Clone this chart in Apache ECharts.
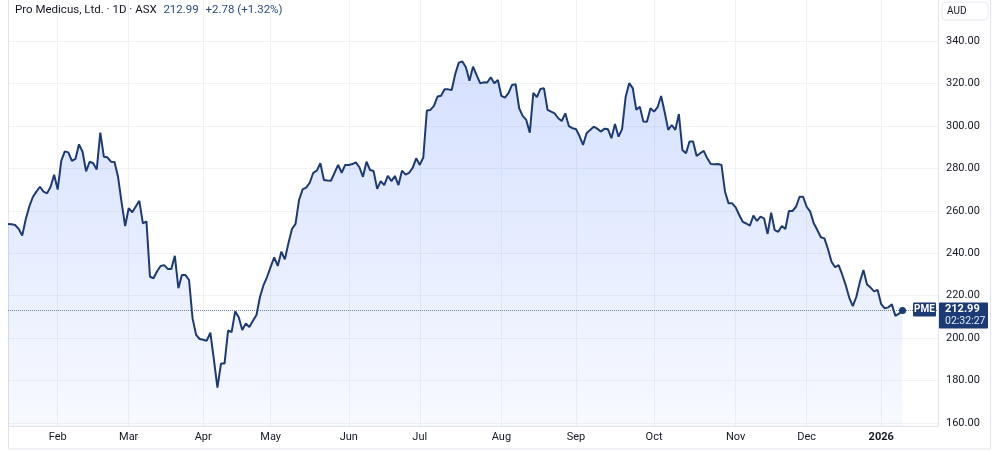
<!DOCTYPE html>
<html lang="en">
<head>
    <meta charset="utf-8">
    <title>PME</title>
    <script src="https://cdn.jsdelivr.net/npm/echarts@6/dist/echarts.min.js"></script>
    <style>
        html, body { margin: 0; padding: 0; background: #fff; }
        #main { width: 1000px; height: 452px; }
    </style>
</head>
<body>
<div id="main"></div>
<script type="text/javascript">
    // daily closes, ASX:PME, 13 Jan 2025 -> 12 Jan 2026
    var closes = [
        253.8, 253.6, 253.3, 251.5, 248.3, 256, 262, 266.5, 269, 271.3,
        269, 268.2, 271.3, 277, 270, 283.5, 288, 287.5, 283.5, 284.4,
        291.3, 287.8, 278.6, 283.1, 282.4, 279.5, 296.8, 285.5, 285.2, 283.1,
        283, 276, 264, 252.8, 261.2, 259.3, 262, 264.7, 254.1, 255,
        228.9, 228.2, 231.5, 234, 234.4, 232.6, 232.6, 238.8, 223.5, 229.7,
        229.7, 227.4, 209.3, 201.5, 199.6, 199.2, 198.8, 202.6, 190, 176.7,
        188, 188, 203.6, 202.8, 212.6, 209.8, 203.8, 206.9, 205.2, 208.2,
        210.9, 219.5, 225, 228.9, 233.6, 238, 234, 240.7, 237.1, 244.7,
        251.4, 253.8, 265.1, 270.1, 270.9, 273.2, 277.9, 278.9, 282.4, 274.5,
        274.3, 274.2, 277.9, 281.6, 277.9, 281.6, 281.6, 282, 282.8, 280.5,
        276, 283.1, 279.2, 278.7, 270.3, 274, 272.1, 276.5, 274, 276.4,
        272.1, 278.9, 277, 277.9, 280.2, 284.7, 281.6, 285.1, 307.2, 307.5,
        309.4, 313.8, 314.2, 317.2, 317.2, 316.9, 324.4, 329.8, 330.3, 327.6,
        321.3, 327.9, 324, 320.1, 320.5, 320.4, 322.9, 320.1, 321.6, 314.1,
        313.3, 315.4, 319.3, 319.6, 308.3, 304.7, 302.8, 296.8, 315.6, 313.5,
        317.4, 317.7, 307.5, 306.7, 305.9, 303.6, 302.3, 305.9, 299.9, 298.9,
        298.5, 295.2, 291, 296.5, 298.1, 299.6, 298.7, 297.3, 298.6, 298.5,
        294.2, 300.9, 294.9, 298.5, 313.6, 320.1, 317.8, 307.6, 309, 302,
        301.9, 308.3, 306.7, 308.8, 314.1, 306.4, 298.1, 300.4, 298.1, 305.6,
        288.6, 287.1, 292.6, 292.6, 285.8, 287.1, 288.2, 284.7, 282, 281.9,
        282, 281.6, 269, 263.5, 263.5, 261.6, 258, 254.8, 254, 253,
        257.7, 255.2, 257.2, 256.4, 249.1, 259.1, 250.9, 250.1, 252.8, 251.4,
        259.9, 259.9, 261.9, 266.6, 266.6, 261.9, 259.6, 254.1, 250.9, 247.5,
        247, 242, 236, 233.4, 234.4, 230, 225, 219, 215.1, 219.5,
        226.5, 232.1, 225.3, 223.8, 222, 222.7, 216, 214, 214.5, 215.9,
        210.5, 211.5, 212.99
    ];
    var priceTicks = [160, 180, 200, 220, 240, 260, 280, 300, 320, 340];
    var monthNames = ['Jan', 'Feb', 'Mar', 'Apr', 'May', 'Jun', 'Jul', 'Aug', 'Sep', 'Oct', 'Nov', 'Dec'];
    var holidays = ['2025-01-27', '2025-04-18', '2025-04-21', '2025-04-25', '2025-06-09',
        '2025-12-25', '2025-12-26', '2026-01-01'];
    var emptyDays = 10; // blank space to the right of last bar
    var ticker = 'PME';
    var lastClose = 212.99;
    var change = '+2.78 (+1.32%)';
    var clock = '02:32:27';

    // ASX trading days
    var dates = [];
    var d = new Date(Date.UTC(2025, 0, 13));
    while (dates.length < closes.length + emptyDays) {
        var s = d.toISOString().slice(0, 10);
        var wd = d.getUTCDay();
        if (wd !== 0 && wd !== 6 && holidays.indexOf(s) < 0) dates.push(s);
        d.setUTCDate(d.getUTCDate() + 1);
    }

    function monthStart(idx) {
        return idx > 0 && dates[idx].slice(5, 7) !== dates[idx - 1].slice(5, 7);
    }

    var font = 'Roboto, "Noto Sans", sans-serif';
    var navy = '#1c3b74';

    var myChart = echarts.init(document.getElementById('main'));

    var option = {
        animation: false,
        backgroundColor: '#fff',
        textStyle: { fontFamily: font },
        grid: { left: 8, right: 62, top: 0, bottom: 26 },
        xAxis: {
            type: 'category',
            data: dates,
            boundaryGap: false,
            axisLine: { lineStyle: { color: '#e0e3eb' } },
            axisTick: { show: false },
            axisLabel: {
                interval: function (idx) { return monthStart(idx); },
                margin: 6,
                color: '#131722',
                fontSize: 11,
                fontFamily: font,
                formatter: function (val) {
                    var m = +val.slice(5, 7) - 1;
                    if (m === 0) return '{y|' + val.slice(0, 4) + '}';
                    return monthNames[m];
                },
                rich: { y: { fontWeight: 'bold', fontSize: 11, color: '#131722', fontFamily: font } }
            },
            splitLine: {
                show: true,
                interval: function (idx) { return monthStart(idx); },
                lineStyle: { color: '#f1f2f5' }
            }
        },
        yAxis: {
            type: 'value',
            position: 'right',
            min: 158.6,
            max: 359.3,
            axisLine: { show: true, lineStyle: { color: '#e0e3eb' } },
            axisTick: { show: false, customValues: priceTicks },
            axisLabel: {
                customValues: priceTicks,
                margin: 8,
                color: '#131722',
                fontSize: 11,
                fontFamily: font,
                formatter: function (v) { return v.toFixed(2); }
            },
            splitLine: { show: true, lineStyle: { color: '#f1f2f5' } }
        },
        series: [
            {
                name: ticker,
                type: 'line',
                data: closes,
                showSymbol: false,
                lineStyle: { color: navy, width: 2 },
                itemStyle: { color: navy },
                areaStyle: {
                    origin: 'start',
                    color: new echarts.graphic.LinearGradient(0, 0, 0, 1, [
                        { offset: 0, color: 'rgba(41,98,255,0.28)' },
                        { offset: 1, color: 'rgba(41,98,255,0.05)' }
                    ])
                },
                markLine: {
                    silent: true,
                    symbol: 'none',
                    label: { show: false },
                    lineStyle: { color: '#6b7fa3', type: 'dotted', width: 1 },
                    data: [{ yAxis: lastClose }]
                },
                markPoint: {
                    symbol: 'circle',
                    symbolSize: 7,
                    itemStyle: { color: navy },
                    label: { show: false },
                    data: [{ coord: [closes.length - 1, lastClose] }]
                }
            }
        ]
    };
    myChart.setOption(option);

    var py = myChart.convertToPixel({ gridIndex: 0 }, [closes.length - 1, lastClose])[1];

    myChart.setOption({
        graphic: [
            // frame
            { type: 'rect', shape: { x: 8.5, y: -2, width: 982, height: 451 }, style: { fill: 'none', stroke: '#e0e3eb', lineWidth: 1 }, z: 0, silent: true },
            // header
            {
                type: 'text', x: 15, y: 10, z: 10,
                style: {
                    text: '{a|Pro Medicus, Ltd. · 1D · ASX}  {b|' + lastClose.toFixed(2) + '}  {b|' + change + '}',
                    verticalAlign: 'middle',
                    rich: {
                        a: { fontSize: 11.5, fill: '#131722', fontFamily: font },
                        b: { fontSize: 11.5, fill: '#2a4a86', fontFamily: font }
                    }
                }
            },
            // currency box
            { type: 'rect', shape: { x: 942, y: 2, width: 46, height: 18, r: 4 }, style: { fill: '#fff', stroke: '#e8eaef' }, z: 10 },
            { type: 'text', x: 947, y: 11, z: 11, style: { text: 'AUD', fontSize: 10, fill: '#131722', verticalAlign: 'middle', fontFamily: font } },
            // ticker tag
            { type: 'rect', shape: { x: 913, y: py - 8, width: 23, height: 14, r: 1 }, style: { fill: navy }, z: 10 },
            { type: 'text', x: 924.5, y: py - 1, z: 11, style: { text: ticker, fontSize: 10, fontWeight: 'bold', fill: '#fff', align: 'center', verticalAlign: 'middle', fontFamily: font } },
            // price tag
            { type: 'rect', shape: { x: 939, y: py - 8, width: 49, height: 26, r: 1 }, style: { fill: navy }, z: 10 },
            { type: 'text', x: 945, y: py - 1, z: 11, style: { text: lastClose.toFixed(2), fontSize: 11, fontWeight: 'bold', fill: '#fff', verticalAlign: 'middle', fontFamily: font } },
            { type: 'text', x: 945, y: py + 11, z: 11, style: { text: clock, fontSize: 10.5, fill: '#e3e9f5', verticalAlign: 'middle', fontFamily: font } }
        ]
    });
</script>
</body>
</html>
